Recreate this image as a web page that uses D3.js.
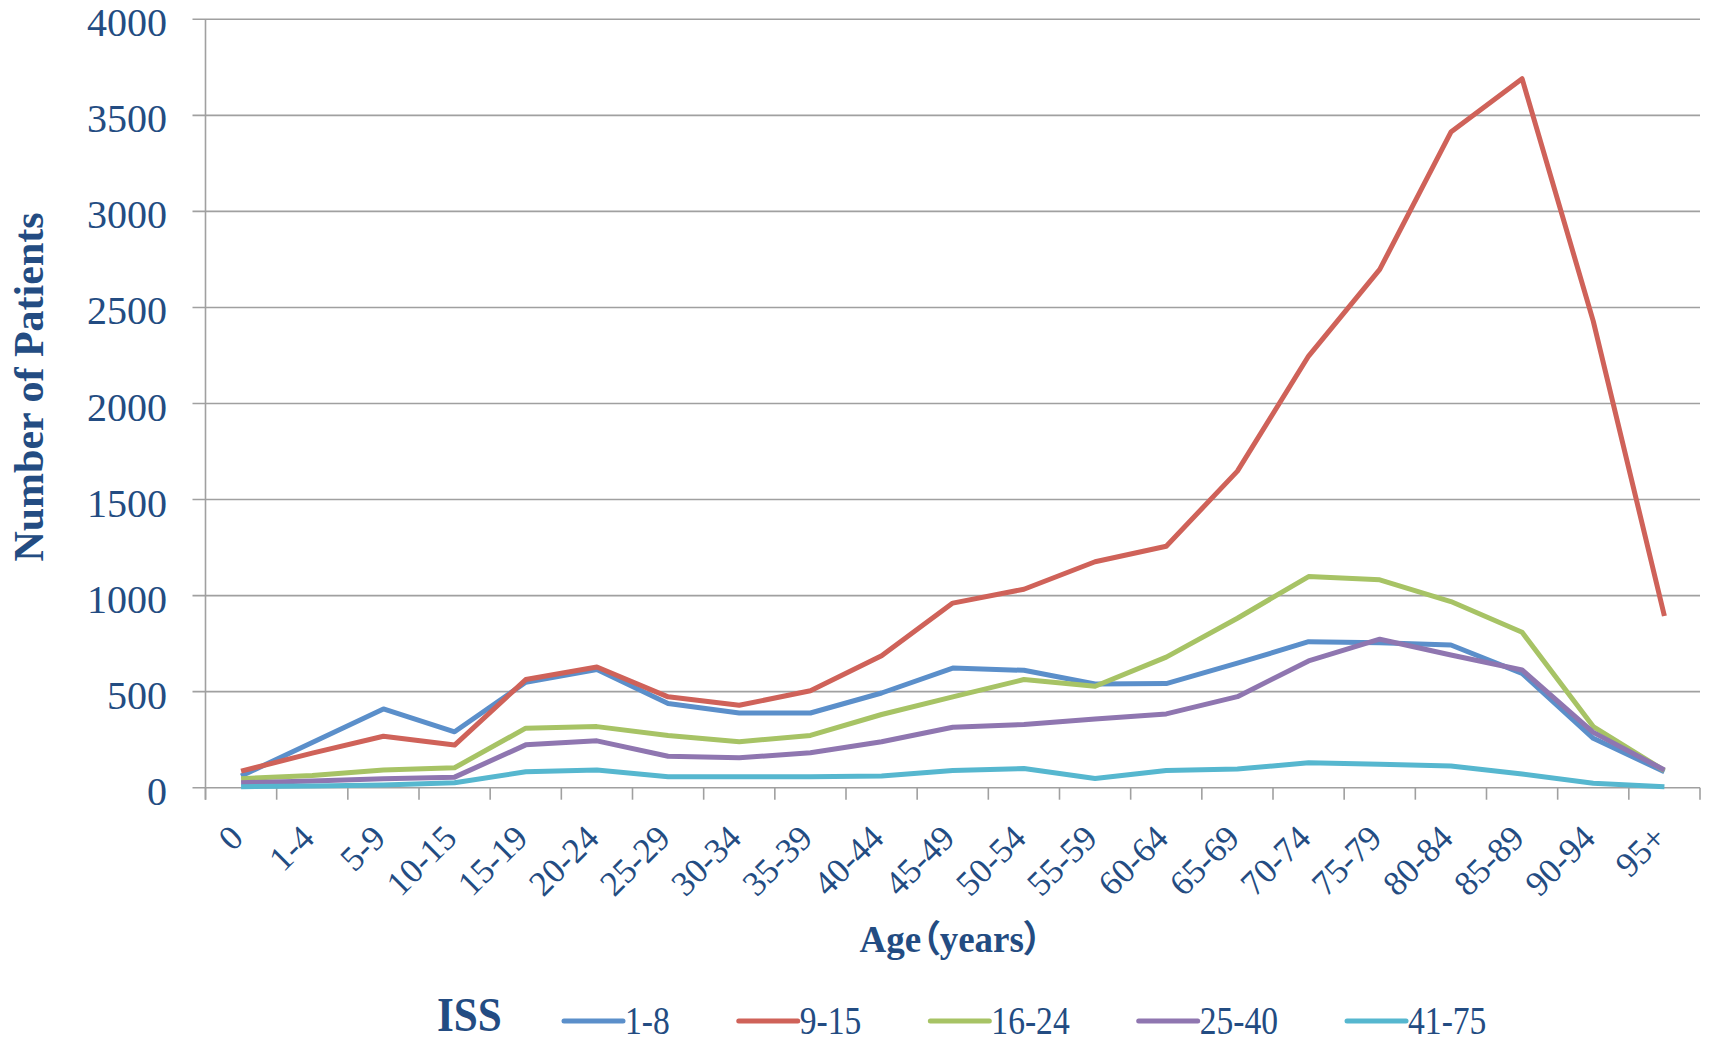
<!DOCTYPE html>
<html>
<head>
<meta charset="utf-8">
<script src="https://cdn.jsdelivr.net/npm/d3@7"></script>
<style>
  html, body { margin: 0; padding: 0; background: #fff; }
  text { font-family: "Liberation Serif", "Times New Roman", serif; fill: #234c82; }
  .xtitle { font-family: "Liberation Serif", "Noto Sans CJK SC", serif; font-feature-settings: "palt" 1; }
</style>
</head>
<body>
<div id="chart"></div>
<script>
// data
const ages = ["0", "1-4", "5-9", "10-15", "15-19", "20-24", "25-29", "30-34", "35-39", "40-44",
  "45-49", "50-54", "55-59", "60-64", "65-69", "70-74", "75-79", "80-84", "85-89", "90-94", "95+"];
const iss1to8   = [61, 235, 410, 291, 549, 615, 438, 389, 389, 493, 623, 611, 540, 542, 648, 760, 755, 743, 595, 257, 83];
const iss9to15  = [86, 180, 268, 222, 563, 628, 473, 429, 505, 687, 961, 1033, 1176, 1257, 1648, 2247, 2698, 3413, 3691, 2429, 894];
const iss16to24 = [47, 64, 92, 104, 310, 318, 272, 239, 272, 381, 473, 563, 528, 680, 882, 1099, 1082, 969, 809, 318, 89];
const iss25to40 = [26, 35, 47, 55, 223, 244, 164, 156, 182, 239, 315, 329, 358, 384, 474, 660, 773, 691, 613, 288, 92];
const iss41to75 = [5, 9, 14, 26, 83, 92, 57, 57, 57, 61, 90, 100, 48, 90, 97, 130, 122, 113, 71, 23, 5];
const seriesNames = ["1-8", "9-15", "16-24", "25-40", "41-75"];
const yTicks = [0, 500, 1000, 1500, 2000, 2500, 3000, 3500, 4000];

const series = [iss1to8, iss9to15, iss16to24, iss25to40, iss41to75];
const colors = ["#5b8fca", "#cf6259", "#a7c365", "#8f76b0", "#56b7cf"];

const W = 1714, H = 1044;
// plot box (window.top is taken, so use longer names)
const plotL = 205.5, plotR = 1700, plotT = 19.3, plotB = 787.7;

const svg = d3.select("#chart").append("svg")
  .attr("width", W).attr("height", H);

const x = d3.scaleBand().domain(ages).range([plotL, plotR]).padding(0);
const y = d3.scaleLinear().domain([0, 4000]).range([plotB, plotT]);
const cx = d => x(d) + x.bandwidth() / 2;

// gridlines + left ticks
svg.append("g").selectAll("line")
  .data(yTicks)
  .join("line")
    .attr("x1", plotL - 13).attr("x2", plotR)
    .attr("y1", d => y(d)).attr("y2", d => y(d))
    .attr("stroke", "#a0a0a0").attr("stroke-width", 1.6);

// y axis line
svg.append("line")
  .attr("x1", plotL).attr("x2", plotL)
  .attr("y1", plotT).attr("y2", plotB + 12)
  .attr("stroke", "#a0a0a0").attr("stroke-width", 1.6);

// x ticks at category boundaries
const bounds = ages.map(d => x(d)).concat([plotR]);
svg.append("g").selectAll("line")
  .data(bounds)
  .join("line")
    .attr("x1", d => d).attr("x2", d => d)
    .attr("y1", plotB).attr("y2", plotB + 12)
    .attr("stroke", "#a0a0a0").attr("stroke-width", 1.6);

// y tick labels
svg.append("g").selectAll("text")
  .data(yTicks)
  .join("text")
    .attr("x", 167)
    .attr("y", d => y(d) + 17)
    .attr("text-anchor", "end")
    .style("font-size", "40px")
    .text(d => d);

// x tick labels, rotated
svg.append("g").selectAll("text")
  .data(ages)
  .join("text")
    .attr("text-anchor", "end")
    .attr("transform", d => `translate(${cx(d) + 4},840) rotate(-45)`)
    .style("font-size", "35px")
    .text(d => d);

// axis titles
svg.append("text")
  .attr("transform", "translate(43,387) rotate(-90)")
  .attr("text-anchor", "middle")
  .style("font-size", "42px")
  .style("font-weight", "bold")
  .text("Number of Patients");

svg.append("text")
  .attr("class", "xtitle")
  .attr("x", 951).attr("y", 952)
  .attr("text-anchor", "middle")
  .style("font-size", "37px")
  .style("font-weight", "bold")
  .text("Age（years）");

// lines
const line = d3.line()
  .x((d, i) => cx(ages[i]))
  .y(d => y(d));

svg.append("g").selectAll("path")
  .data(series)
  .join("path")
    .attr("d", line)
    .attr("fill", "none")
    .attr("stroke", (d, i) => colors[i])
    .attr("stroke-width", 5)
    .attr("stroke-linejoin", "round");

// legend
const lg = svg.append("g");
lg.append("text")
  .attr("transform", "translate(437,1031) scale(0.9,1)")
  .style("font-size", "48px")
  .style("font-weight", "bold")
  .text("ISS");

let lx = 564;
seriesNames.forEach((name, i) => {
  lg.append("line")
    .attr("x1", lx).attr("x2", lx + 59)
    .attr("y1", 1021).attr("y2", 1021)
    .attr("stroke", colors[i]).attr("stroke-width", 5)
    .attr("stroke-linecap", "round");
  const t = lg.append("text")
    .attr("transform", `translate(${lx + 61},1034) scale(0.84,1)`)
    .style("font-size", "40px")
    .text(name);
  const tw = t.node().getComputedTextLength() * 0.84;
  lx += 61 + tw + 69;
});
</script>
</body>
</html>
